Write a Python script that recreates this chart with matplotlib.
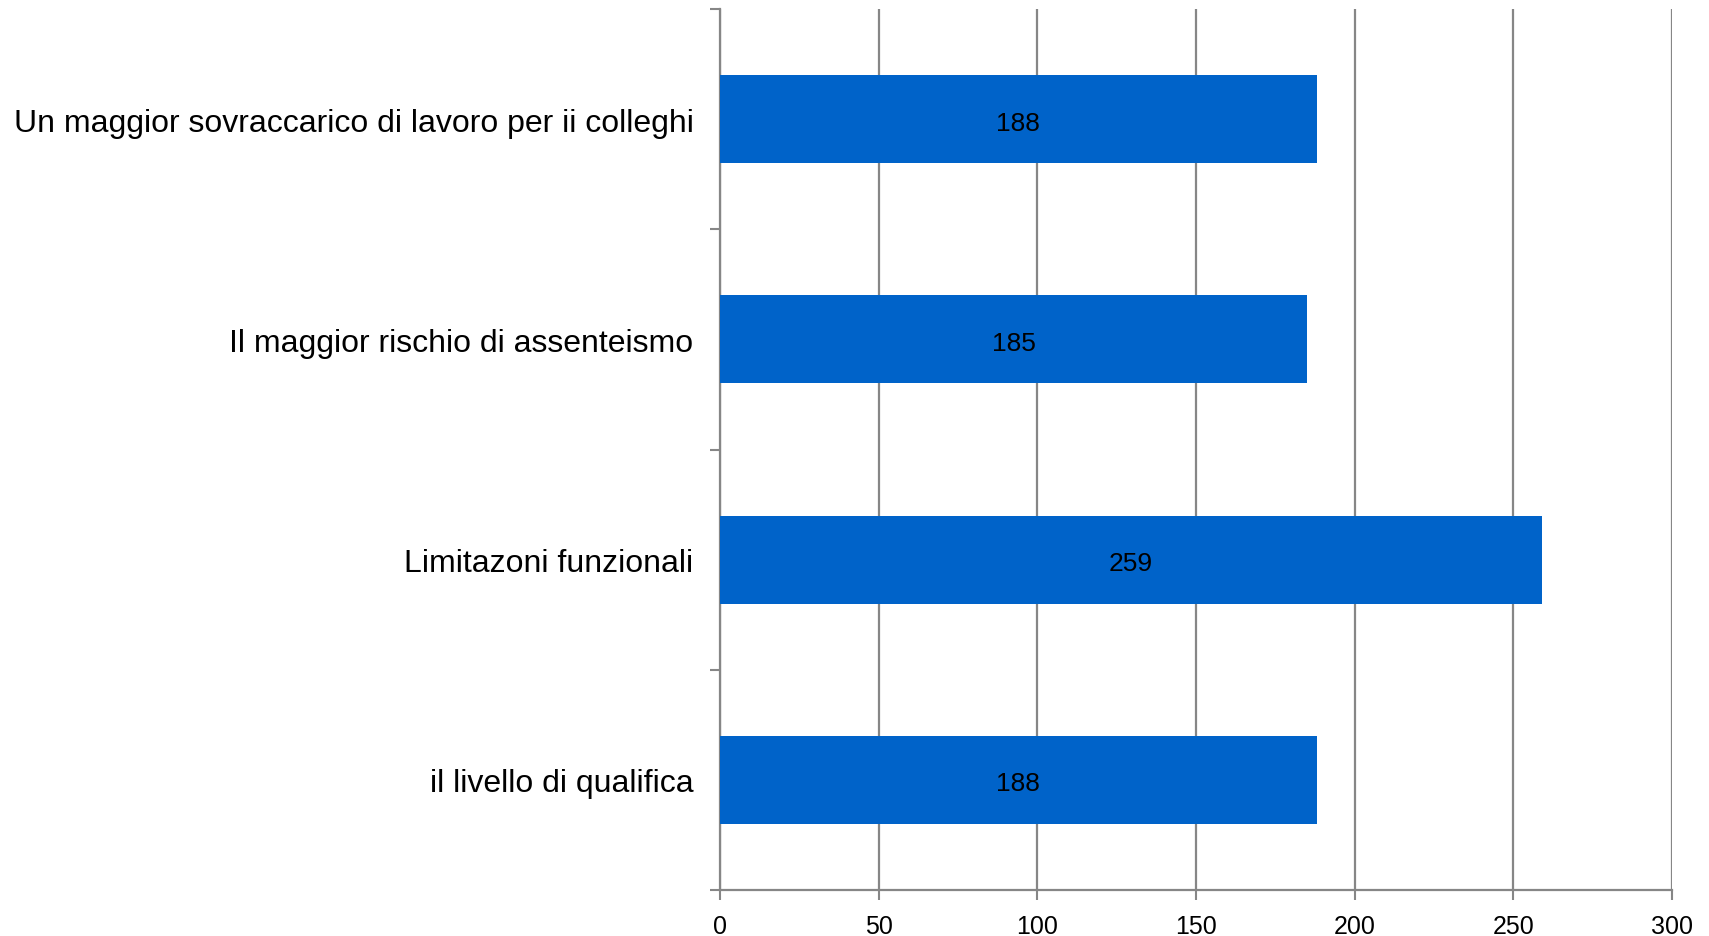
#!/usr/bin/env python3
# -*- coding: utf-8 -*-
'''
Horizontal bar chart: motivi / rischi percepiti (conteggi).
'''

import matplotlib
matplotlib.use('Agg')
import matplotlib.pyplot as plt

# Data, top to bottom as in the chart
categories = [
    'Un maggior sovraccarico di lavoro per ii colleghi',
    'Il maggior rischio di assenteismo',
    'Limitazoni funzionali',
    'il livello di qualifica',
]
values = [188, 185, 259, 188]
xticks = [0, 50, 100, 150, 200, 250, 300]

BAR_COLOR = '#0063C9'
GRID_COLOR = '#868686'

plt.rcParams['font.family'] = ['Liberation Sans', 'DejaVu Sans']

fig = plt.figure(figsize=(17.09, 9.37), dpi=100)
ax = fig.add_axes([720 / 1709, 1 - 891 / 937, (1672 - 720) / 1709, (891 - 10) / 937])

# bottom category is at y=0
ypos = list(range(len(categories)))[::-1]
bars = ax.barh(ypos, values, height=0.4, color=BAR_COLOR, zorder=3)
anns = ax.bar_label(bars, labels=[str(v) for v in values], label_type='center',
                    fontsize=19, color='black')
for a in anns:
    a.xyann = (0, -2.5)   # a touch lower, like the original

ax.set_xlim(0, 300)
ax.set_ylim(-0.5, len(categories) - 0.5)
ax.set_xticks(xticks)
ax.set_xticklabels([str(t) for t in xticks], fontsize=18)

# category labels placed at centres, ticks at the boundaries
ax.set_yticks([y - 0.5 for y in range(len(categories) + 1)])
ax.set_yticklabels([])
ax.set_yticks(ypos, minor=True)
ax.set_yticklabels(categories, minor=True, fontsize=23)
ax.tick_params(axis='y', which='minor', length=0, pad=19)
ax.tick_params(axis='y', which='major', length=7, width=1.5, color=GRID_COLOR)
ax.tick_params(axis='x', length=7, width=1.5, color=GRID_COLOR, pad=10)

ax.grid(True, axis='x', color=GRID_COLOR, linewidth=1.6, zorder=0)
for side in ['top', 'right']:
    ax.spines[side].set_visible(False)
for side in ['left', 'bottom']:
    ax.spines[side].set_color(GRID_COLOR)
    ax.spines[side].set_linewidth(1.6)

plt.savefig('out.png', dpi=100)
# EOF
